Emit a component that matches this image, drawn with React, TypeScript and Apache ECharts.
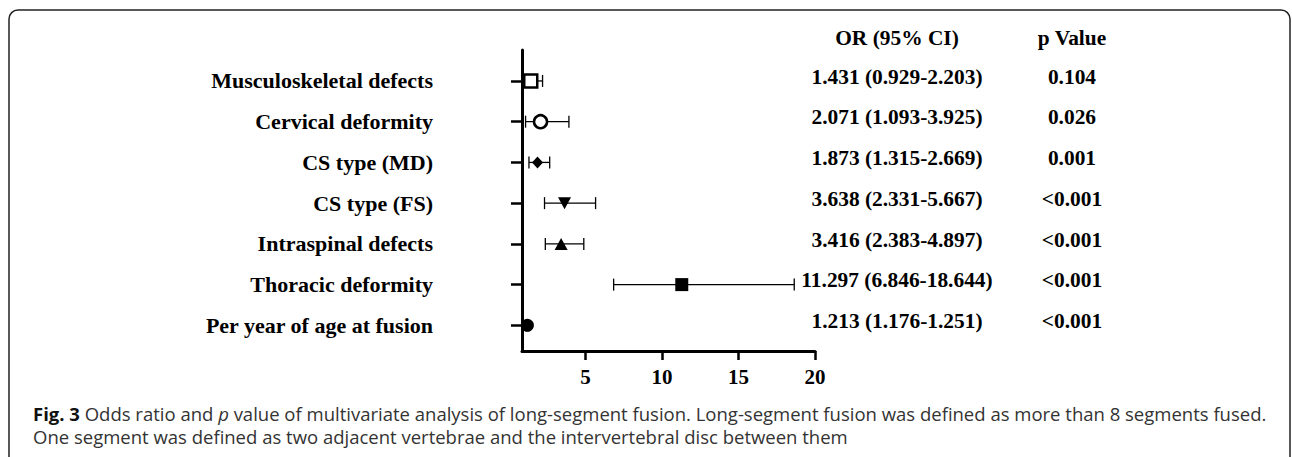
import React, { useEffect, useRef } from "react";
import * as echarts from "echarts";

const categories = [
  "Musculoskeletal defects",
  "Cervical deformity",
  "CS type (MD)",
  "CS type (FS)",
  "Intraspinal defects",
  "Thoracic deformity",
  "Per year of age at fusion",
];
const orValues = [1.431, 2.071, 1.873, 3.638, 3.416, 11.297, 1.213];
const ciLow = [0.929, 1.093, 1.315, 2.331, 2.383, 6.846, 1.176];
const ciHigh = [2.203, 3.925, 2.669, 5.667, 4.897, 18.644, 1.251];
const pValues = ["0.104", "0.026", "0.001", "<0.001", "<0.001", "<0.001", "<0.001"];
const markerSymbols = ["rect", "circle", "diamond", "triangle", "triangle", "rect", "circle"];
const markerFilled = [false, false, true, true, true, true, true];
const markerRotate = [0, 0, 0, 180, 0, 0, 0];
const xTicks = [5, 10, 15, 20];
const headers = ["OR (95% CI)", "p Value"];
const captionBold = "Fig. 3";
const captionLine1a = " Odds ratio and ";
const captionItalic = "p";
const captionLine1b =
  " value of multivariate analysis of long-segment fusion. Long-segment fusion was defined as more than 8 segments fused.";
const captionLine2 =
  "One segment was defined as two adjacent vertebrae and the intervertebral disc between them";

const SERIF = "'Liberation Serif', 'Times New Roman', serif";
const SANS = "'Open Sans', 'Noto Sans', sans-serif";
const CAP = 18.5;

const markerSizes: Record<string, number[]> = {
  rect: [13, 13],
  circle: [13, 13],
  diamond: [11, 12],
  triangle: [13, 12],
};

export default function App() {
  const ref = useRef<HTMLDivElement>(null);
  useEffect(() => {
    if (!ref.current) return;
    const chart = echarts.init(ref.current, undefined, { renderer: "svg" });
    const rowIdx = categories.map((_, i) => i);

    const baseGraphic: any[] = [
      {
        type: "rect",
        shape: { x: 9, y: 10, width: 1281, height: 520, r: 9 },
        style: { fill: "none", stroke: "#222", lineWidth: 1.5 },
        silent: true,
      },
      {
        type: "text",
        x: 33,
        y: 402,
        style: {
          text:
            "{b|" + captionBold + "}{n|" + captionLine1a + "}{i|" + captionItalic + "}{n|" +
            captionLine1b + "}\n{n|" + captionLine2 + "}",
          fontFamily: SANS,
          fontSize: CAP,
          lineHeight: 23,
          fill: "#333",
          verticalAlign: "top",
          rich: {
            b: { fontFamily: SANS, fontSize: CAP, fontWeight: "bold", fill: "#111", lineHeight: 23 },
            n: { fontFamily: SANS, fontSize: CAP, fill: "#333", lineHeight: 23 },
            i: { fontFamily: SANS, fontSize: CAP, fontStyle: "italic", fill: "#333", lineHeight: 23 },
          },
        },
      },
    ];

    chart.setOption({
      animation: false,
      grid: { left: 522, right: 477, top: 50, bottom: 106, containLabel: false },
      xAxis: {
        type: "value",
        min: 0.86,
        max: 20,
        axisLine: { show: true, onZero: false, lineStyle: { color: "#000", width: 3 } },
        axisTick: { show: true, customValues: xTicks, length: 9, lineStyle: { color: "#000", width: 2.5 } },
        axisLabel: {
          customValues: xTicks,
          color: "#000",
          fontFamily: SERIF,
          fontWeight: "bold",
          fontSize: 21,
          margin: 15,
        },
        splitLine: { show: false },
      },
      yAxis: {
        type: "value",
        inverse: true,
        min: -0.76,
        max: 6.63,
        axisLine: { show: true, onZero: false, lineStyle: { color: "#000", width: 3 } },
        axisTick: { show: true, customValues: rowIdx, length: 11, lineStyle: { color: "#000", width: 2.5 } },
        axisLabel: {
          customValues: rowIdx,
          formatter: (v: number) => categories[Math.round(v)] ?? "",
          color: "#000",
          fontFamily: SERIF,
          fontWeight: "bold",
          fontSize: 22,
          margin: 89,
        },
        splitLine: { show: false },
      },
      series: [
        {
          type: "custom",
          z: 2,
          data: rowIdx.map((i) => [ciLow[i], ciHigh[i], i]),
          encode: { x: [0, 1], y: 2 },
          renderItem: (params: any, api: any) => {
            const lo = api.coord([api.value(0), api.value(2)]);
            const hi = api.coord([api.value(1), api.value(2)]);
            const h = 6;
            const st = { stroke: "#000", lineWidth: 1.3 };
            return {
              type: "group",
              children: [
                { type: "line", shape: { x1: lo[0], y1: lo[1], x2: hi[0], y2: hi[1] }, style: st },
                { type: "line", shape: { x1: lo[0], y1: lo[1] - h, x2: lo[0], y2: lo[1] + h }, style: st },
                { type: "line", shape: { x1: hi[0], y1: hi[1] - h, x2: hi[0], y2: hi[1] + h }, style: st },
              ],
            };
          },
        },
        {
          type: "scatter",
          z: 5,
          itemStyle: { opacity: 1 },
          data: rowIdx.map((i) => ({
            value: [orValues[i], i],
            symbol: markerSymbols[i],
            symbolRotate: markerRotate[i],
            symbolSize: markerSizes[markerSymbols[i]],
            itemStyle: markerFilled[i]
              ? { color: "#000", opacity: 1 }
              : { color: "#fff", borderColor: "#000", borderWidth: 2.5, opacity: 1 },
          })),
        },
      ],
      graphic: baseGraphic,
    });

    const col1 = 897;
    const col2 = 1072;
    const tableGraphic: any[] = [];
    const headerStyle = { fontFamily: SERIF, fontWeight: "bold", fontSize: 20, fill: "#000", align: "center", verticalAlign: "middle" };
    const sx = 1.07;
    tableGraphic.push({ type: "text", x: col1, y: 38, scaleX: sx, style: { ...headerStyle, text: headers[0] } });
    tableGraphic.push({ type: "text", x: col2, y: 38, scaleX: sx, style: { ...headerStyle, text: headers[1] } });
    rowIdx.forEach((i) => {
      const py = chart.convertToPixel({ yAxisIndex: 0 } as any, i) as unknown as number;
      const orText = `${orValues[i].toFixed(3)} (${ciLow[i].toFixed(3)}-${ciHigh[i].toFixed(3)})`;
      tableGraphic.push({ type: "text", x: col1, y: py - 4, scaleX: sx, style: { ...headerStyle, text: orText } });
      tableGraphic.push({ type: "text", x: col2, y: py - 4, scaleX: sx, style: { ...headerStyle, text: pValues[i] } });
    });
    chart.setOption({ graphic: [...baseGraphic, ...tableGraphic] });

    return () => chart.dispose();
  }, []);
  return (
    <div
      ref={ref}
      style={{ position: "fixed", left: 0, top: 0, width: 1292, height: 457, background: "#fff" }}
    />
  );
}
